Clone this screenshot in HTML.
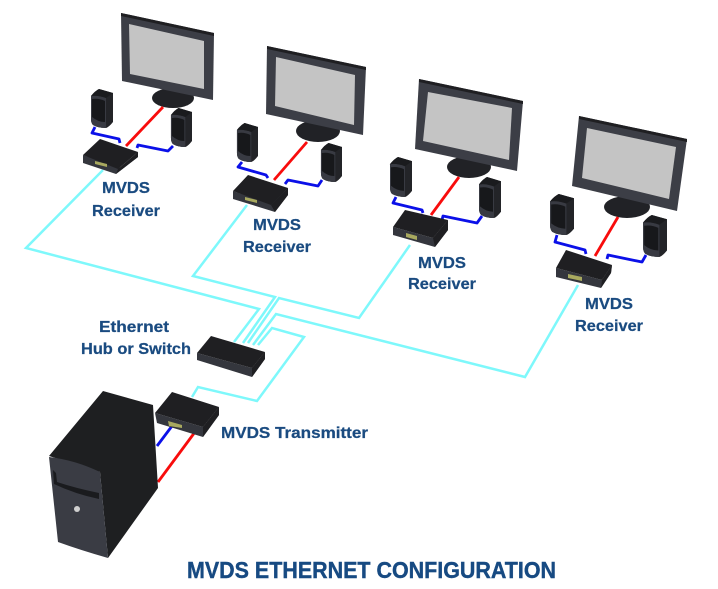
<!DOCTYPE html>
<html><head><meta charset="utf-8"><style>
html,body{margin:0;padding:0;background:#fff;width:718px;height:589px;overflow:hidden}
svg{display:block}
text{font-family:"Liberation Sans",sans-serif;font-weight:bold;fill:#1a4b80;font-size:16px;stroke:#1a4b80;stroke-width:.25}
.c{fill:none;stroke:#7ef8fb;stroke-width:2.5;stroke-linejoin:miter}
.r{fill:none;stroke:#f80c0c;stroke-width:2.8}
.b{fill:none;stroke:#0b10e8;stroke-width:2.8;stroke-linejoin:round}
.dk{fill:#1f1f22}.fr{fill:#34363d}.led{fill:#a8a95f}
.face{fill:#3c3e46}.scr{fill:#c4c4c4}.st{fill:#212226}
</style></head><body>
<svg width="718" height="589" viewBox="0 0 718 589" xmlns="http://www.w3.org/2000/svg">
<defs>
<symbol id="sp" viewBox="0 0 23 39" preserveAspectRatio="none">
<path d="M1 7Q5 2 9 0L23 4 23 33Q19 38 16 39 8 39 3 36 1 34 1 30Z" fill="#232428"/>
<path d="M1 7Q8 6 16 9L16 39Q8 39 3 36 1 34 1 30Z" fill="#383a42"/>
<path d="M2 10Q9 9 15 12L15 33Q8 33 2 28Z" fill="#17181b"/>
<path d="M1 7Q5 2 9 0L23 4 16 9Q8 6 1 7Z" fill="#1a1b1e"/>
</symbol>
</defs>

<!-- cyan -->
<polyline class="c" points="103,170 26,248 259,309 234,342"/>
<polyline class="c" points="247,205 193,276 275,297 243,343"/>
<polyline class="c" points="410,245 359,318 279,298 248,343"/>
<polyline class="c" points="578,285 525,377 276,314 253,345"/>
<polyline class="c" points="258,345 272,328 304,337 257,401 198,387 192,397"/>

<!-- monitor 1 -->
<ellipse class="st" cx="173" cy="98" rx="21" ry="10"/>
<polygon class="face" points="121,13 214,33 213,100 122,81"/>
<polygon class="dk" points="121,13 214,33 214,36 121,16"/>
<polygon class="scr" points="129,24 204,41 204,89 130,74"/>
<polyline class="r" points="163,107 126,146"/>
<polyline class="b" points="95,127 92,133 119,139 120,143"/>
<polyline class="b" points="173,146 168,151 138,145 137,148"/>
<use href="#sp" x="90" y="89" width="23" height="39"/>
<use href="#sp" x="170" y="108" width="22" height="39"/>
<polygon class="fr" points="83,155 121,168 138,152 138,157 116,174 83,163"/>
<polygon class="dk" points="83,155 100,139 138,152 118,169"/>
<polygon class="dk" points="118,169 138,152 138,157 116,174"/>
<polygon class="led" points="95,161 107,164 107,167 95,164"/>

<!-- monitor 2 -->
<ellipse class="st" cx="318" cy="131" rx="22" ry="11"/>
<polygon class="face" points="267,46 366,67 363,135 266,114"/>
<polygon class="dk" points="267,46 366,67 366,70 267,49"/>
<polygon class="scr" points="276,57 355,75 354,125 275,106"/>
<polyline class="r" points="307,142 274,180"/>
<polyline class="b" points="242,162 238,167 266,175 268,178"/>
<polyline class="b" points="322,180 318,186 288,180 285,184"/>
<use href="#sp" x="236" y="123" width="22" height="39"/>
<use href="#sp" x="320" y="143" width="22" height="39"/>
<polygon class="fr" points="233,191 271,204 288,188 288,195 275,212 233,199"/>
<polygon class="dk" points="233,191 248,175 288,188 271,205"/>
<polygon class="dk" points="271,205 288,188 288,195 275,212"/>
<polygon class="led" points="245,197 257,200 257,203 245,200"/>

<!-- monitor 3 -->
<ellipse class="st" cx="469" cy="167" rx="22" ry="11"/>
<polygon class="face" points="419,79 523,101 517,171 415,149"/>
<polygon class="dk" points="419,79 523,101 523,104 419,82"/>
<polygon class="scr" points="428,92 512,108 509,160 423,141"/>
<polyline class="r" points="459,177 431,215"/>
<polyline class="b" points="396,197 393,203 422,210 423,213"/>
<polyline class="b" points="482,216 477,223 443,216 442,220"/>
<use href="#sp" x="389" y="157" width="23" height="40"/>
<use href="#sp" x="478" y="177" width="23" height="41"/>
<polygon class="fr" points="393,227 433,238 448,220 448,230 435,247 393,235"/>
<polygon class="dk" points="393,227 405,210 448,220 433,238"/>
<polygon class="dk" points="433,238 448,220 448,230 435,247"/>
<polygon class="led" points="406,233 417,236 417,240 406,237"/>

<!-- monitor 4 -->
<ellipse class="st" cx="627" cy="207" rx="23" ry="11"/>
<polygon class="face" points="579,116 687,139 677,211 572,186"/>
<polygon class="dk" points="579,116 687,139 687,142 579,119"/>
<polygon class="scr" points="587,128 676,147 669,199 582,178"/>
<polyline class="r" points="618,217 595,256"/>
<polyline class="b" points="557,235 555,242 585,250 586,254"/>
<polyline class="b" points="646,255 642,262 608,255 607,259"/>
<use href="#sp" x="549" y="194" width="25" height="41"/>
<use href="#sp" x="642" y="215" width="25" height="42"/>
<polygon class="fr" points="556,268 602,280 612,265 611,273 601,288 556,277"/>
<polygon class="dk" points="556,268 566,250 612,265 602,280"/>
<polygon class="dk" points="602,280 612,265 611,273 601,288"/>
<polygon class="led" points="568,274 582,277 582,281 568,278"/>

<!-- hub -->
<polygon class="fr" points="197,353 252,368 265,352 265,359 252,377 197,360"/>
<polygon class="dk" points="197,353 211,336 265,352 252,368"/>
<polygon class="dk" points="252,368 265,352 265,359 252,377"/>

<!-- cables to PC -->
<polyline class="b" points="157,446 172,426"/>
<polyline class="r" points="158,482 195,432"/>

<!-- transmitter -->
<polygon class="fr" points="155,413 203,427 219,407 219,415 203,437 157,423"/>
<polygon class="dk" points="155,413 172,392 219,407 203,427"/>
<polygon class="dk" points="203,427 219,407 219,415 203,437"/>
<polygon class="led" points="168,421 182,425 182,428 169,426"/>

<!-- computer -->
<polygon fill="#1e1f21" points="49,456 103,391 153,405 158,488 108,558 100,472"/>
<path d="M49,457 Q75,460 100,472 L108,558 Q80,550 58,542Z" fill="#3a3c44"/>
<path d="M53,470 L54,484 Q75,494 99,499 L99,493 Q75,488 57,482 L56,473Z" fill="#1a1b1e"/>
<circle cx="77" cy="509" r="3" fill="#cfcfcf"/>

<!-- labels -->
<text x="102" y="193" textLength="48" lengthAdjust="spacingAndGlyphs">MVDS</text>
<text x="92" y="216" textLength="68" lengthAdjust="spacingAndGlyphs">Receiver</text>
<text x="253" y="230" textLength="48" lengthAdjust="spacingAndGlyphs">MVDS</text>
<text x="243" y="252" textLength="68" lengthAdjust="spacingAndGlyphs">Receiver</text>
<text x="418" y="268" textLength="48" lengthAdjust="spacingAndGlyphs">MVDS</text>
<text x="408" y="289" textLength="68" lengthAdjust="spacingAndGlyphs">Receiver</text>
<text x="585" y="309" textLength="48" lengthAdjust="spacingAndGlyphs">MVDS</text>
<text x="575" y="331" textLength="68" lengthAdjust="spacingAndGlyphs">Receiver</text>
<text x="99" y="332" textLength="70" lengthAdjust="spacingAndGlyphs">Ethernet</text>
<text x="81" y="354" textLength="110" lengthAdjust="spacingAndGlyphs">Hub or Switch</text>
<text x="221" y="438" textLength="147" lengthAdjust="spacingAndGlyphs">MVDS Transmitter</text>
<text x="187" y="578" textLength="369" lengthAdjust="spacingAndGlyphs" style="font-size:23px;fill:#174a82;stroke:#174a82;stroke-width:.4">MVDS ETHERNET CONFIGURATION</text>
</svg>
</body></html>
